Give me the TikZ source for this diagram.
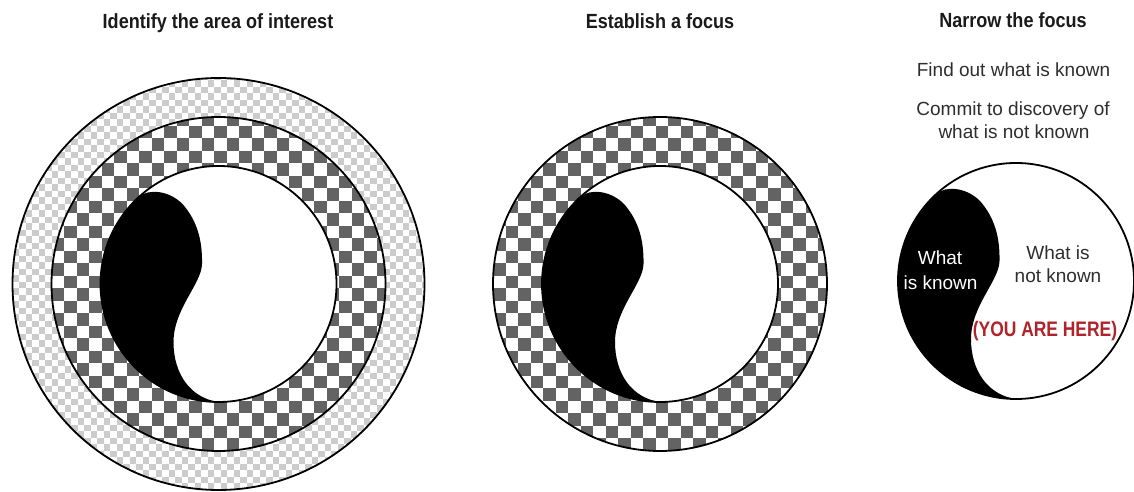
\documentclass[tikz,border=0pt]{standalone}
\usepackage{fontspec}
\setmainfont{Liberation Sans}
\newfontfamily\condbold[FakeStretch=0.88]{Liberation Sans}
\newfontfamily\herefont[FakeStretch=0.83]{Liberation Sans}
\definecolor{chkdark}{HTML}{636363}
\definecolor{chklight}{HTML}{CCCCCC}
\definecolor{herered}{HTML}{B0232A}
\definecolor{txtgray}{HTML}{2E2E2E}
\definecolor{titleblack}{HTML}{1A1A1A}
% checker-filled disk: cx, cy, radius, square size, colour
\newcommand{\chkdisk}[5]{%
  \begin{scope}
    \clip (#1,#2) circle[radius=#3pt];
    \fill[white] (#1,#2) circle[radius=#3pt];
    \pgfmathtruncatemacro{\nrows}{ceil(2*#3/#4)}
    \foreach \i in {0,...,\nrows} {
      \pgfmathsetmacro{\yy}{#2-#3+(\i+0.5)*#4}
      \pgfmathsetmacro{\ph}{mod(\i,2)*#4}
      \draw[line width=#4pt, #5, dash pattern=on #4pt off #4pt]
        (#1-#3-2*#4-\ph, \yy) -- (#1+#3+2*#4, \yy);
    }
  \end{scope}}
% the black "known" shape inside a circle of radius 118 centred at (#1,#2)
\newcommand{\knownshape}[2]{%
  \fill[black, shift={(#1,#2)}] (0,-118)
    arc[start angle=270, end angle=132, radius=118pt]
    .. controls (-70,95) and (-50,94) .. (-36,80)
    .. controls (-22,64) and (-16,45) .. (-16.5,20)
    .. controls (-17,0) and (-45,-25) .. (-45,-58)
    .. controls (-45,-90) and (-28,-114) .. (0,-118) -- cycle;}
\tikzset{
  title/.style={font=\condbold\bfseries\fontsize{20.5}{24}\selectfont, text=titleblack, anchor=base, inner sep=0pt},
  body/.style={font=\fontsize{19}{23}\selectfont, text=txtgray, anchor=base, inner sep=0pt},
  here/.style={font=\herefont\bfseries\fontsize{21}{25}\selectfont, text=herered, anchor=base, inner sep=0pt},
  ring/.style={draw=black, line width=1.8pt}
}
\begin{document}
\begin{tikzpicture}[x=1pt,y=1pt]
\useasboundingbox (0,0) rectangle (1134,492);
\fill[white] (0,0) rectangle (1134,492);

% ---------- Diagram 1 ----------
\chkdisk{218.5}{208}{206}{6.5}{chklight}
\chkdisk{218.5}{208}{167}{12.5}{chkdark}
\fill[white] (218.5,208) circle[radius=118pt];
\knownshape{218.5}{208}
\draw[ring] (218.5,208) circle[radius=206pt];
\draw[ring] (218.5,208) circle[radius=167pt];
\draw[ring] (218.5,208) circle[radius=118pt];

% ---------- Diagram 2 ----------
\chkdisk{660}{208}{167}{12.5}{chkdark}
\fill[white] (660,208) circle[radius=118pt];
\knownshape{660}{208}
\draw[ring] (660,208) circle[radius=167pt];
\draw[ring] (660,208) circle[radius=118pt];

% ---------- Diagram 3 ----------
\fill[white] (1016,211) circle[radius=118pt];
\knownshape{1016}{211}
\draw[ring] (1016,211) circle[radius=118pt];

% ---------- Texts ----------
\node[title] (t1) at (218,463) {Identify the area of interest};
\node[title] (t2) at (660,463) {Establish a focus};
\node[title] (t3) at (1013,464) {Narrow the focus};
\node[body] (f1) at (1013.5,415) {Find out what is known};
\node[body] (f2) at (1013,376) {Commit to discovery of};
\node[body] (f3) at (1014,353) {what is not known};
\node[body, text=white] (k1) at (940,227) {What};
\node[body, text=white] (k2) at (940.5,202) {is known};
\node[body] (u1) at (1058,232) {What is};
\node[body] (u2) at (1058,209) {not known};
\node[here] (h) at (1045,155) {(YOU ARE HERE)};
\end{tikzpicture}
\end{document}
